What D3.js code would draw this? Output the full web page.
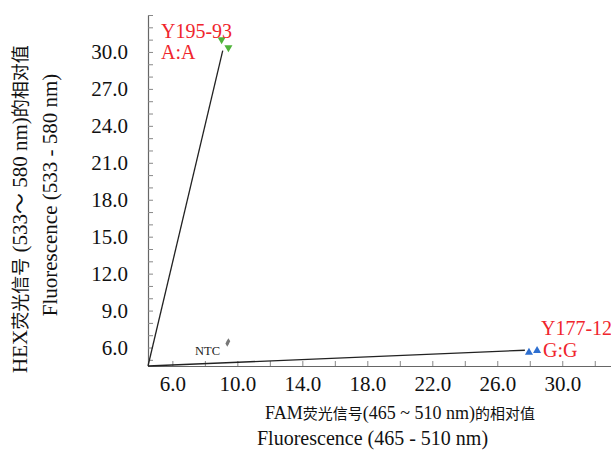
<!DOCTYPE html>
<html>
<head>
<meta charset="utf-8">
<script src="https://cdn.jsdelivr.net/npm/d3@7"></script>
<style>
  body { margin: 0; background: #fff; }
  svg text { font-family: "Liberation Serif", "Noto Sans CJK SC", serif; }
</style>
</head>
<body>
<div id="chart"></div>
<script>
// allele clusters (FAM, HEX)
const groupAA = [[9.03, 31.0], [9.45, 30.35]];
const groupGG = [[27.95, 5.6], [28.45, 5.75]];
const ntc = [[9.45, 6.5], [9.38, 6.32]];
// cluster lines start at origin of plot
const lineAA = [[4.5, 4.5], [9.1, 30.1]];
const lineGG = [[4.5, 4.5], [27.7, 5.78]];

const xTicks = d3.range(6, 33, 2);
const xLabels = [6, 10, 14, 18, 22, 26, 30];
const yTicks = d3.range(5, 34, 1);
const yLabels = [6, 9, 12, 15, 18, 21, 24, 27, 30];

const labels = [
    { text: "Y195-93", x: 161, y: 38 },
    { text: "A:A", x: 161, y: 59 },
    { text: "Y177-12", x: 541, y: 335 },
    { text: "G:G", x: 543, y: 357 }
];

// title pieces: [text, is CJK]
const xTitle = [["FAM", false], ["荧光信号", true], ["(465 ~ 510 nm)", false], ["的相对值", true]];
const yTitle = [["HEX", false], ["荧光信号", true], [" (533～ 580 nm)", false], ["的相对值", true]];

const width = 611, height = 450;

const svg = d3.select("#chart")
    .append("svg")
    .attr("width", width)
    .attr("height", height);

const x = d3.scaleLinear().domain([4.5, 33]).range([148, 611]);
const y = d3.scaleLinear().domain([4.5, 33]).range([366, 15]);

// X axis
const xAxis = svg.append("g")
    .attr("transform", `translate(0, ${y(4.5)})`)
    .call(d3.axisBottom(x)
        .tickValues(xTicks)
        .tickSize(-5)
        .tickPadding(10)
        .tickSizeOuter(0)
        .tickFormat(d => xLabels.includes(d) ? d.toFixed(1) : ""));
xAxis.select(".domain").attr("stroke", "#666").attr("stroke-width", 1.2);
xAxis.selectAll(".tick line").attr("stroke", "#888");
xAxis.selectAll("text").style("font-size", "21px").attr("fill", "#111");

// Y axis
const yAxis = svg.append("g")
    .attr("transform", `translate(${x(4.5)}, 0)`)
    .call(d3.axisLeft(y)
        .tickValues(yTicks)
        .tickSize(-5)
        .tickPadding(20)
        .tickSizeOuter(0)
        .tickFormat(d => yLabels.includes(d) ? d.toFixed(1) : ""));
yAxis.select(".domain").attr("stroke", "#666").attr("stroke-width", 1.2);
yAxis.selectAll(".tick line").attr("stroke", "#888");
yAxis.selectAll("text").style("font-size", "21px").attr("fill", "#111");

// cluster lines
const line = d3.line().x(d => x(d[0])).y(d => y(d[1]));
[lineAA, lineGG].forEach(l => {
    svg.append("path")
        .attr("d", line(l))
        .attr("fill", "none")
        .attr("stroke", "#222")
        .attr("stroke-width", 1.3);
});

// points
const tri = d3.symbol().type(d3.symbolTriangle).size(28);
svg.selectAll("aa")
    .data(groupAA)
    .enter()
    .append("path")
    .attr("d", tri)
    .attr("transform", d => `translate(${x(d[0])}, ${y(d[1])}) rotate(180)`)
    .attr("fill", "#4fb43a");

svg.selectAll("gg")
    .data(groupGG)
    .enter()
    .append("path")
    .attr("d", tri)
    .attr("transform", d => `translate(${x(d[0])}, ${y(d[1])})`)
    .attr("fill", "#2e6fd0");

svg.selectAll("ntc")
    .data(ntc)
    .enter()
    .append("path")
    .attr("d", d3.symbol().type(d3.symbolDiamond).size(12))
    .attr("transform", d => `translate(${x(d[0])}, ${y(d[1])})`)
    .attr("fill", "#777");

svg.append("text")
    .attr("x", 220)
    .attr("y", 355)
    .attr("text-anchor", "end")
    .style("font-size", "12.5px")
    .attr("fill", "#222")
    .text("NTC");

// genotype labels
svg.selectAll("glabel")
    .data(labels)
    .enter()
    .append("text")
    .attr("x", d => d.x)
    .attr("y", d => d.y)
    .style("font-size", "20px")
    .attr("fill", "#f0252d")
    .text(d => d.text);

// axis titles
const xt = svg.append("text")
    .attr("x", 265)
    .attr("y", 419)
    .attr("fill", "#111");
xt.selectAll("tspan")
    .data(xTitle)
    .enter()
    .append("tspan")
    .style("font-size", d => d[1] ? "15px" : "18px")
    .text(d => d[0]);

svg.append("text")
    .attr("x", 257)
    .attr("y", 445)
    .style("font-size", "20px")
    .attr("fill", "#111")
    .text("Fluorescence (465 - 510 nm)");

const yt = svg.append("text")
    .attr("transform", "translate(27, 209) rotate(-90)")
    .attr("text-anchor", "middle")
    .attr("fill", "#111");
yt.selectAll("tspan")
    .data(yTitle)
    .enter()
    .append("tspan")
    .style("font-size", d => d[1] ? "18px" : "21px")
    .text(d => d[0]);

svg.append("text")
    .attr("transform", "translate(57, 195) rotate(-90)")
    .attr("text-anchor", "middle")
    .style("font-size", "21px")
    .attr("fill", "#111")
    .text("Fluorescence (533 - 580 nm)");
</script>
</body>
</html>
